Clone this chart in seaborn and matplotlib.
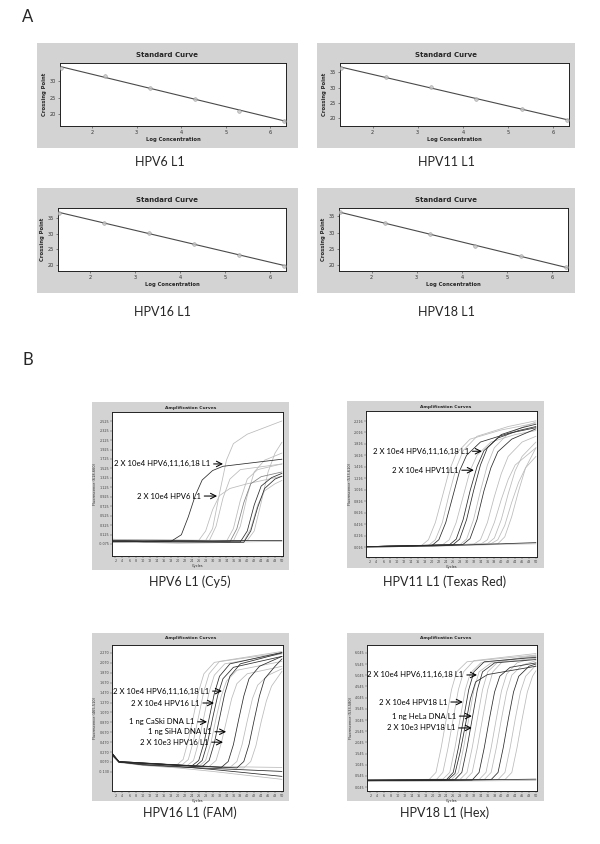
import pandas as pd
import matplotlib
matplotlib.use('Agg')
import matplotlib.pyplot as plt
import seaborn as sns
from matplotlib.patches import Rectangle

sns.set_theme(style='white')
plt.rcParams['font.family'] = ['DejaVu Sans']

# ---------------------------------------------------------------
# Panel A: standard curves (crossing point vs log concentration)
# ---------------------------------------------------------------
log_conc = [1.3, 2.3, 3.3, 4.3, 5.3, 6.3]
cp_hpv6 = [34.0, 31.6, 28.1, 24.7, 21.1, 17.9]
cp_hpv11 = [36.4, 33.6, 30.2, 26.1, 22.8, 19.4]
cp_hpv16 = [36.7, 33.4, 30.2, 26.8, 23.2, 19.8]
cp_hpv18 = [36.3, 32.9, 29.7, 26.0, 22.9, 19.4]
std_names = ['HPV6 L1', 'HPV11 L1', 'HPV16 L1', 'HPV18 L1']
std_yticks = [[20, 25, 30], [20, 25, 30, 35], [20, 25, 30, 35], [20, 25, 30, 35]]
std_xticks = [2, 3, 4, 5, 6]

# ---------------------------------------------------------------
# Panel B: amplification curves, (shade, cycles, fluorescence)
# ---------------------------------------------------------------
cy5_curves = [
    ('l', [1, 28, 30, 32, 34, 36, 40, 50], [0.02, 0.0, 0.25, 1.0, 1.7, 2.05, 2.25, 2.53]),
    ('l', [1, 26, 28, 30, 32, 35, 40, 50], [0.0, 0.0, 0.2, 0.65, 0.95, 1.1, 1.2, 1.36]),
    ('l', [1, 29, 31, 33, 35, 38, 50], [0.01, -0.01, 0.3, 0.9, 1.3, 1.5, 1.62]),
    ('l', [1, 34, 36, 38, 40, 43, 50], [0.0, -0.02, 0.25, 0.85, 1.3, 1.5, 1.62]),
    ('l', [1, 36, 38, 40, 42, 45, 50], [0.02, -0.01, 0.3, 0.95, 1.45, 1.7, 1.85]),
    ('l', [1, 39, 41, 43, 45, 48, 50], [0.0, -0.02, 0.25, 0.75, 1.05, 1.2, 1.27]),
    ('l', [1, 40, 42, 44, 46, 48, 50], [0.01, 0.0, 0.2, 0.8, 1.45, 1.85, 2.08]),
    ('l', [1, 10, 20, 30, 40, 50], [0.03, -0.04, -0.06, -0.05, -0.03, -0.02]),
    ('m', [1, 35, 37, 39, 41, 44, 50], [0.0, -0.03, 0.25, 0.8, 1.2, 1.35, 1.45]),
    ('d', [1, 18, 21, 23, 25, 27, 30, 33, 50], [-0.03, -0.02, 0.12, 0.5, 0.95, 1.28, 1.48, 1.57, 1.72]),
    ('d', [1, 38, 40, 42, 44, 47, 50], [-0.02, -0.03, 0.2, 0.75, 1.15, 1.33, 1.42]),
    ('d', [1, 39, 41, 43, 45, 48, 50], [-0.03, -0.04, 0.2, 0.7, 1.1, 1.3, 1.36]),
    ('d', [1, 10, 20, 30, 40, 50], [0.0, -0.01, 0.0, -0.01, 0.0, 0.0]),
]

texas_red_curves = [
    ('l', [1, 17, 19, 21, 23, 25, 27, 31, 40, 50], [0.03, 0.05, 0.15, 0.45, 0.9, 1.35, 1.65, 1.9, 2.06, 2.18]),
    ('l', [1, 19, 21, 23, 25, 27, 29, 33, 42, 50], [0.03, 0.05, 0.15, 0.45, 0.95, 1.4, 1.7, 1.95, 2.12, 2.22]),
    ('l', [1, 23, 25, 27, 29, 31, 33, 37, 44, 50], [0.03, 0.06, 0.15, 0.45, 0.9, 1.35, 1.62, 1.85, 1.98, 2.05]),
    ('l', [1, 28, 30, 32, 34, 36, 38, 42, 47, 50], [0.03, 0.06, 0.16, 0.5, 1.0, 1.45, 1.75, 2.0, 2.13, 2.2]),
    ('l', [1, 32, 34, 36, 38, 40, 42, 46, 50], [0.03, 0.07, 0.15, 0.45, 0.9, 1.3, 1.6, 1.85, 1.95]),
    ('l', [1, 34, 36, 38, 40, 42, 44, 50], [0.03, 0.07, 0.15, 0.45, 0.85, 1.2, 1.45, 1.75]),
    ('l', [1, 36, 38, 40, 42, 44, 46, 50], [0.03, 0.08, 0.18, 0.5, 0.95, 1.35, 1.6, 1.85]),
    ('l', [1, 37, 39, 41, 43, 45, 47, 50], [0.03, 0.08, 0.15, 0.4, 0.8, 1.15, 1.4, 1.6]),
    ('l', [1, 39, 41, 43, 45, 47, 50], [0.03, 0.08, 0.2, 0.55, 1.0, 1.4, 1.75]),
    ('l', [1, 10, 20, 30, 40, 50], [0.03, 0.03, 0.04, 0.05, 0.07, 0.08]),
    ('d', [1, 20, 22, 24, 26, 28, 30, 34, 42, 50], [0.03, 0.05, 0.15, 0.45, 0.9, 1.35, 1.62, 1.85, 2.0, 2.1]),
    ('d', [1, 25, 27, 29, 31, 33, 35, 39, 45, 50], [0.03, 0.06, 0.16, 0.5, 1.0, 1.42, 1.7, 1.92, 2.05, 2.12]),
    ('d', [1, 26, 28, 30, 32, 34, 36, 40, 46, 50], [0.03, 0.06, 0.16, 0.5, 1.0, 1.45, 1.75, 1.98, 2.1, 2.16]),
    ('d', [1, 29, 31, 33, 35, 37, 39, 43, 50], [0.03, 0.07, 0.17, 0.5, 1.0, 1.4, 1.68, 1.9, 2.08]),
    ('d', [1, 10, 20, 30, 40, 50], [0.02, 0.03, 0.04, 0.06, 0.08, 0.1]),
]

fam_curves = [
    ('l', [1, 3, 19.5, 21.5, 23, 24.5, 26, 27.5, 30.5, 50], [0.22, 0.08, 0.0, 0.12, 0.5, 1.0, 1.5, 1.85, 2.08, 2.27]),
    ('l', [1, 3, 21, 23, 24.5, 26, 27.5, 29, 32, 50], [0.24, 0.07, 0.0, 0.12, 0.5, 1.0, 1.5, 1.85, 2.1, 2.3]),
    ('l', [1, 3, 22.5, 24.5, 26, 27.5, 29, 30.5, 33.5, 50], [0.2, 0.08, -0.01, 0.1, 0.48, 0.98, 1.48, 1.82, 2.05, 2.25]),
    ('l', [1, 3, 26, 28, 29.5, 31, 32.5, 34, 37, 50], [0.21, 0.07, -0.02, 0.1, 0.45, 0.95, 1.4, 1.7, 1.92, 2.1]),
    ('l', [1, 3, 29, 31, 32.5, 34, 35.5, 37, 40, 50], [0.22, 0.08, -0.02, 0.1, 0.45, 0.9, 1.35, 1.65, 1.85, 2.0]),
    ('l', [1, 3, 35, 37, 38.5, 40, 41.5, 43, 46, 50], [0.23, 0.07, -0.04, 0.08, 0.42, 0.9, 1.35, 1.62, 1.82, 1.95]),
    ('l', [1, 3, 39, 41, 42.5, 44, 45.5, 47, 50], [0.2, 0.06, -0.05, 0.08, 0.4, 0.88, 1.3, 1.6, 1.9]),
    ('l', [1, 3, 10, 20, 30, 40, 50], [0.2, 0.06, 0.0, -0.05, -0.12, -0.2, -0.28]),
    ('l', [1, 3, 10, 20, 30, 40, 50], [0.22, 0.08, 0.03, 0.0, -0.02, -0.03, -0.04]),
    ('d', [1, 3, 24, 26, 27.5, 29, 30.5, 32, 35, 50], [0.25, 0.08, -0.01, 0.1, 0.45, 0.95, 1.45, 1.8, 2.05, 2.28]),
    ('d', [1, 3, 25, 27, 28.5, 30, 31.5, 33, 36, 50], [0.23, 0.07, -0.02, 0.1, 0.45, 0.95, 1.42, 1.75, 1.98, 2.2]),
    ('d', [1, 3, 27, 29, 30.5, 32, 33.5, 35, 38, 50], [0.24, 0.08, -0.02, 0.1, 0.45, 0.95, 1.45, 1.8, 2.05, 2.27]),
    ('d', [1, 3, 32.5, 34.5, 36, 37.5, 39, 40.5, 43.5, 50], [0.22, 0.07, -0.04, 0.08, 0.42, 0.92, 1.4, 1.75, 2.0, 2.2]),
    ('d', [1, 3, 37, 39, 40.5, 42, 43.5, 45, 48, 50], [0.24, 0.07, -0.05, 0.08, 0.42, 0.92, 1.4, 1.75, 2.0, 2.15]),
    ('d', [1, 3, 10, 20, 30, 40, 50], [0.25, 0.07, 0.02, -0.02, -0.08, -0.15, -0.22]),
    ('d', [1, 3, 10, 20, 30, 40, 50], [0.24, 0.07, 0.01, -0.03, -0.06, -0.09, -0.12]),
]

hex_curves = [
    ('l', [1, 19, 21, 22.5, 24, 25.5, 27, 30, 50], [0.35, 0.38, 0.7, 1.8, 3.1, 4.4, 5.2, 5.65, 5.95]),
    ('l', [1, 21, 23, 24.5, 26, 27.5, 29, 32, 50], [0.33, 0.36, 0.7, 1.8, 3.1, 4.4, 5.2, 5.7, 6.02]),
    ('l', [1, 23, 25, 26.5, 28, 29.5, 31, 34, 50], [0.36, 0.4, 0.7, 1.8, 3.1, 4.4, 5.15, 5.6, 5.9]),
    ('l', [1, 25.5, 27.5, 29, 30.5, 32, 33.5, 37, 50], [0.35, 0.38, 0.7, 1.8, 3.1, 4.4, 5.2, 5.6, 5.8]),
    ('l', [1, 28, 30, 31.5, 33, 34.5, 36, 39, 50], [0.36, 0.39, 0.7, 1.8, 3.1, 4.4, 5.2, 5.65, 5.95]),
    ('l', [1, 29.5, 31.5, 33, 34.5, 36, 37.5, 40.5, 50], [0.34, 0.37, 0.7, 1.8, 3.1, 4.4, 5.2, 5.7, 5.9]),
    ('l', [1, 33.5, 35.5, 37, 38.5, 40, 41.5, 44.5, 50], [0.35, 0.38, 0.7, 1.8, 3.1, 4.35, 5.1, 5.6, 5.85]),
    ('l', [1, 35, 37, 38.5, 40, 41.5, 43, 46, 50], [0.35, 0.38, 0.7, 1.8, 3.1, 4.3, 5.05, 5.5, 5.7]),
    ('l', [1, 39, 41, 42.5, 44, 45.5, 47, 50], [0.35, 0.38, 0.7, 1.8, 3.1, 4.3, 5.0, 5.5]),
    ('l', [1, 41, 43, 44.5, 46, 47.5, 49, 50], [0.35, 0.38, 0.7, 1.8, 3.1, 4.3, 5.0, 5.25]),
    ('l', [1, 10, 20, 30, 40, 50], [0.3, 0.3, 0.31, 0.32, 0.33, 0.35]),
    ('d', [1, 24, 26, 27.5, 29, 30.5, 32, 35, 50], [0.34, 0.37, 0.7, 1.8, 3.1, 4.4, 5.2, 5.65, 5.85]),
    ('d', [1, 24.5, 26.5, 28, 29.5, 31, 32.5, 36, 50], [0.35, 0.38, 0.65, 1.6, 2.8, 4.0, 4.75, 5.08, 5.45]),
    ('d', [1, 26.5, 28.5, 30, 31.5, 33, 34.5, 38, 50], [0.35, 0.38, 0.7, 1.8, 3.1, 4.4, 5.2, 5.6, 5.75]),
    ('d', [1, 31.5, 33.5, 35, 36.5, 38, 39.5, 42.5, 50], [0.33, 0.36, 0.7, 1.8, 3.1, 4.3, 5.0, 5.4, 5.6]),
    ('d', [1, 37, 39, 40.5, 42, 43.5, 45, 48, 50], [0.35, 0.38, 0.7, 1.8, 3.1, 4.3, 5.0, 5.45, 5.55]),
    ('d', [1, 10, 20, 30, 40, 50], [0.36, 0.35, 0.34, 0.36, 0.38, 0.4]),
]

cy5_yticks = [-0.075, 0.125, 0.325, 0.525, 0.725, 0.925, 1.125, 1.325, 1.525, 1.725, 1.925, 2.125, 2.325, 2.525]
texas_red_yticks = [0.016, 0.216, 0.416, 0.616, 0.816, 1.016, 1.216, 1.416, 1.616, 1.816, 2.016, 2.216]
fam_yticks = [-0.13, 0.07, 0.27, 0.47, 0.67, 0.87, 1.07, 1.27, 1.47, 1.67, 1.87, 2.07, 2.27]
hex_yticks = [0.045, 0.545, 1.045, 1.545, 2.045, 2.545, 3.045, 3.545, 4.045, 4.545, 5.045, 5.545, 6.045]
cycle_ticks = list(range(2, 51, 2))

amp_names = ['HPV6 L1 (Cy5)', 'HPV11 L1 (Texas Red)', 'HPV16 L1 (FAM)', 'HPV18 L1 (Hex)']
amp_ylabels = ['Fluorescence (618-660)', 'Fluorescence (533-610)',
               'Fluorescence (465-510)', 'Fluorescence (533-580)']

# annotations: (text, text position, arrow tip) in cycle / fluorescence units
cy5_notes = [('2 X 10e4 HPV6,11,16,18 L1', (1.6, 1.62), (33.0, 1.62)),
             ('2 X 10e4 HPV6 L1', (8.2, 0.94), (31.3, 0.94))]
texas_red_notes = [('2 X 10e4 HPV6,11,16,18 L1', (3.0, 1.69), (34.4, 1.69)),
                   ('2 X 10e4 HPV11L1', (8.5, 1.36), (32.1, 1.36))]
fam_notes = [('2 X 10e4 HPV6,11,16,18 L1', (1.3, 1.50), (32.7, 1.50)),
             ('2 X 10e4 HPV16 L1', (6.5, 1.26), (30.4, 1.26)),
             ('1 ng CaSki DNA L1', (5.9, 0.88), (28.4, 0.88)),
             ('1 ng SiHA DNA L1', (11.4, 0.68), (33.9, 0.68)),
             ('2 X 10e3 HPV16 L1', (9.1, 0.47), (33.0, 0.47))]
hex_notes = [('2 X 10e4 HPV6,11,16,18 L1', (1.1, 5.06), (32.9, 5.06)),
             ('2 X 10e4 HPV18 L1', (4.5, 3.85), (28.8, 3.85)),
             ('1 ng HeLa DNA L1', (8.2, 3.22), (31.4, 3.22)),
             ('2 X 10e3 HPV18 L1', (6.8, 2.69), (31.4, 2.69))]

# ---------------------------------------------------------------
W, H = 600, 844
GRAY = '#d3d3d3'
SHADES = {'l': '#bababa', 'm': '#808080', 'd': '#2a2a2a'}
CAPTION_FONT = ['Lato', 'DejaVu Sans']

fig = plt.figure(figsize=(W / 100, H / 100), dpi=100)


def px_axes(x0, y0, x1, y1):
    return fig.add_axes([x0 / W, 1 - y1 / H, (x1 - x0) / W, (y1 - y0) / H])


def gray_box(x0, y0, x1, y1):
    fig.add_artist(Rectangle((x0 / W, 1 - y1 / H), (x1 - x0) / W, (y1 - y0) / H,
                             transform=fig.transFigure, facecolor=GRAY,
                             edgecolor='none', zorder=-5))


def px_text(x, y, s, **kw):
    fig.text(x / W, 1 - y / H, s, ha='center', va='center', **kw)


def frame(ax):
    ax.set_facecolor('white')
    for sp in ax.spines.values():
        sp.set_visible(True)
        sp.set_color('#222222')
        sp.set_linewidth(0.7)


# ---- panel A ----
std_series = [cp_hpv6, cp_hpv11, cp_hpv16, cp_hpv18]
std_boxes = [(37, 43, 298, 148), (317, 43, 575, 148), (37, 188, 298, 293), (317, 188, 575, 293)]
std_axes = [(60, 63, 286, 126), (340, 63, 569, 126), (58, 208, 286, 271), (339, 208, 568, 271)]
std_caps = [(160, 162), (446, 162), (162, 312), (446, 312)]
std_ylims = [(16.4, 35.6), (17.3, 38.1), (18.1, 38.2), (18.3, 37.6)]

for cp, gb, ab, cap, yl, yt, name in zip(std_series, std_boxes, std_axes, std_caps,
                                         std_ylims, std_yticks, std_names):
    gray_box(*gb)
    ax = px_axes(*ab)
    frame(ax)
    ax.set_xlim(1.28, 6.35)
    ax.set_ylim(*yl)
    sns.regplot(x=log_conc, y=cp, ax=ax, ci=None, truncate=False, color='#505050',
                scatter_kws=dict(s=7, color='#c4c4c4', edgecolor='#8c8c8c', linewidths=0.4, zorder=3),
                line_kws=dict(lw=0.8, color='#4a4a4a'))
    ax.set_xlim(1.28, 6.35)
    ax.set_ylim(*yl)
    ax.set_xticks(std_xticks)
    ax.set_yticks(yt)
    ax.tick_params(labelsize=3.6, length=1.5, width=0.4, pad=1.5, colors='#333333',
                   bottom=True, left=True)
    ax.set_xlabel('Log Concentration', fontsize=3.8, fontweight='bold', labelpad=1.5)
    ax.set_ylabel('Crossing Point', fontsize=3.8, fontweight='bold', labelpad=1.5)
    px_text((gb[0] + gb[2]) / 2, gb[1] + 12, 'Standard Curve', fontsize=5, fontweight='bold')
    px_text(cap[0], cap[1], name, fontsize=9, family=CAPTION_FONT)

# ---- panel B ----
amp_sets = [cy5_curves, texas_red_curves, fam_curves, hex_curves]
amp_ticks = [cy5_yticks, texas_red_yticks, fam_yticks, hex_yticks]
amp_notes = [cy5_notes, texas_red_notes, fam_notes, hex_notes]
amp_boxes = [(92, 402, 289, 570), (347, 401, 544, 568), (92, 633, 289, 801), (347, 633, 544, 801)]
amp_axes = [(112, 412, 283, 556), (366, 411, 537, 557), (112, 645, 283, 791), (367, 645, 537, 791)]
amp_ylims = [(-0.33, 2.72), (-0.15, 2.39), (-0.515, 2.43), (-0.13, 6.40)]
amp_caps = [(190, 582), (445, 582), (190, 813), (445, 813)]

for curves, yt, notes, gb, ab, yl, cap, name, ylab in zip(amp_sets, amp_ticks, amp_notes, amp_boxes,
                                                          amp_axes, amp_ylims, amp_caps, amp_names,
                                                          amp_ylabels):
    gray_box(*gb)
    ax = px_axes(*ab)
    frame(ax)
    rows = []
    for i, (shade, cyc, val) in enumerate(curves):
        for c, v in zip(cyc, val):
            rows.append((i, c, v))
    df = pd.DataFrame(rows, columns=['curve', 'cycle', 'fluor'])
    pal = {i: SHADES[s] for i, (s, _, _) in enumerate(curves)}
    sns.lineplot(data=df, x='cycle', y='fluor', hue='curve', palette=pal, estimator=None,
                 sort=False, legend=False, linewidth=0.55, ax=ax)
    ax.set_xlim(1, 50.3)
    ax.set_ylim(*yl)
    ax.set_xticks(cycle_ticks)
    ax.set_yticks(yt)
    ax.set_yticklabels([f'{t:.3f}' for t in yt])
    ax.tick_params(labelsize=2.4, length=1.2, width=0.3, pad=0.8, colors='#444444',
                   bottom=True, left=True)
    ax.set_xlabel('Cycles', fontsize=2.5, labelpad=0.6)
    ax.set_ylabel(ylab, fontsize=2.5, labelpad=1.0)
    for label, start, tip in notes:
        ax.annotate(label, xy=tip, xytext=start, ha='left', va='center', fontsize=5.6,
                    family=CAPTION_FONT, color='black',
                    arrowprops=dict(arrowstyle='->,head_length=0.7,head_width=0.35',
                                    color='black', lw=0.75, shrinkA=0, shrinkB=0))
    px_text((gb[0] + gb[2]) / 2, gb[1] + 5.5, 'Amplification Curves', fontsize=3.2, fontweight='bold')
    px_text(cap[0], cap[1], name, fontsize=9, family=CAPTION_FONT)

px_text(28, 17, 'A', fontsize=12, family=CAPTION_FONT)
px_text(28, 360, 'B', fontsize=12, family=CAPTION_FONT)

fig.savefig('out.png', dpi=100, facecolor='white')
